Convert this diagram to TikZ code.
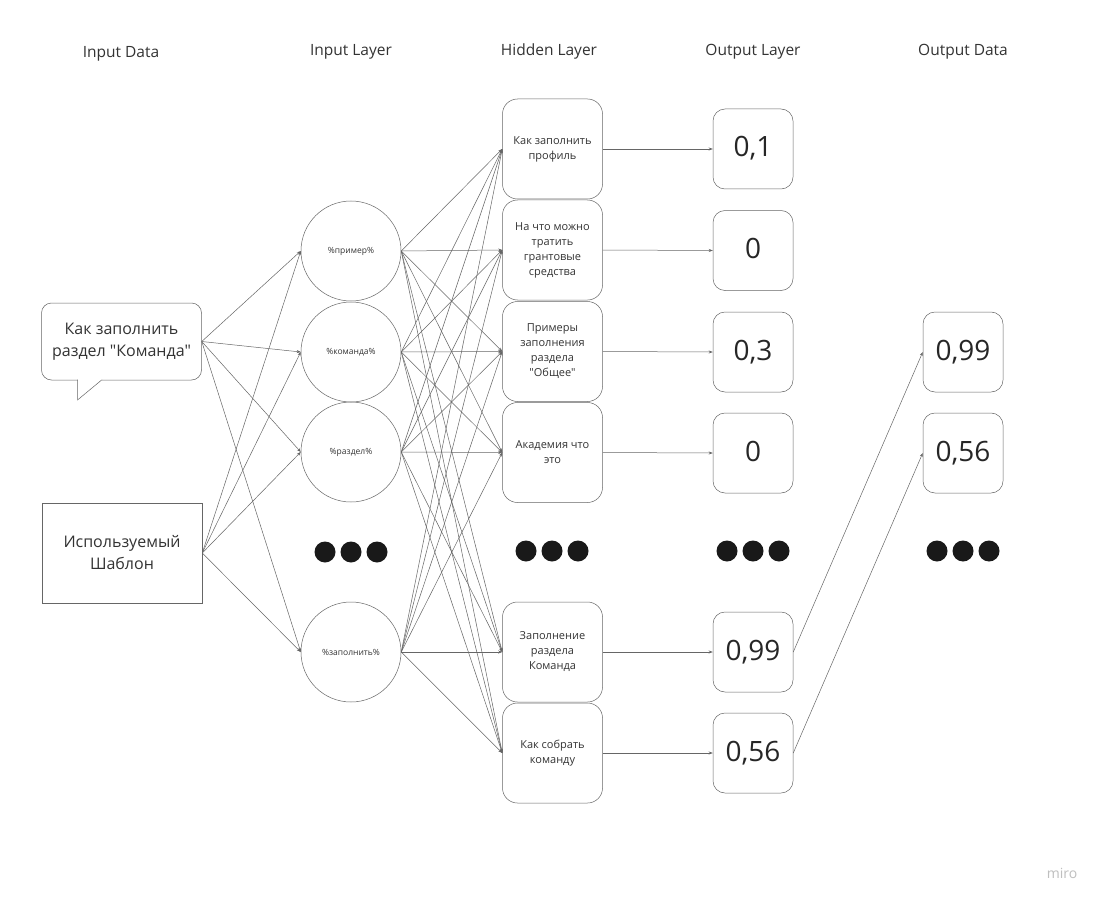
\documentclass[tikz,border=0pt]{standalone}
\usepackage{fontspec}
\setmainfont{Open Sans}[Ligatures=TeXOff]
\usetikzlibrary{arrows.meta}
\begin{document}
\begin{tikzpicture}[x=1pt,y=-1pt,>={Stealth[length=4pt,width=3pt]},
 line/.style={draw=black!60,line width=0.5pt},
 conn/.style={line,->},
 head/.style={anchor=base,text=black!80,font=\fontsize{15.5}{18}\selectfont},
 neuron/.style={circle,line,minimum size=100pt,inner sep=0pt,font=\fontsize{8.5}{10}\selectfont,text=black!80},
 hid/.style={rectangle,rounded corners=15pt,line,minimum width=100pt,minimum height=100pt,align=center,inner sep=0pt,font=\fontsize{11}{15}\selectfont,text=black!80},
 outbox/.style={rectangle,rounded corners=12pt,line,minimum size=80pt,inner sep=0pt,text height=20pt,text depth=4pt,font=\fontsize{28}{32}\selectfont,text=black!85},
 inbox/.style={rectangle,line,minimum width=160pt,inner sep=0pt,align=center,font=\fontsize{16}{22}\selectfont,text=black!80},
 blob/.style={circle,fill=black!90,minimum size=21pt,inner sep=0pt}]
\useasboundingbox[fill=white] (0,0) rectangle (1105,904);
% headers
\node[head] (hInData) at (121,58) {Input Data};
\node[head] (hInLayer) at (351,56) {Input Layer};
\node[head] (hHidden) at (549,56) {Hidden Layer};
\node[head] (hOutLayer) at (753,56) {Output Layer};
\node[head] (hOutData) at (963,56) {Output Data};
% input data
\node[inbox,rounded corners=10pt,minimum height=77pt] (inAsk) at (121.5,341.5) {Как заполнить\\раздел "Команда"};
\fill[white] (77.8,379.4) rectangle (101.8,380.6);
\draw[line] (77.5,379.7) -- (77.5,400) -- (102,379.7);
\node[inbox,minimum height=100pt] (inTpl) at (122,553) {Используемый\\Шаблон};
% input layer
\foreach \n/\y/\t in {1/251/\%пример\%,2/352/\%команда\%,3/452/\%раздел\%,4/652/\%заполнить\%}
 \node[neuron] (n\n) at (351,\y) {\t};
\foreach \x in {325,351,377} \node[blob] (dIn\x) at (\x,552) {};
% hidden layer
\node[hid] (h1) at (552.5,149) {Как заполнить\\профиль};
\node[hid] (h2) at (552.5,250) {На что можно\\тратить\\грантовые\\средства};
\node[hid] (h3) at (552.5,351.5) {Примеры\\заполнения\\раздела\\"Общее"};
\node[hid] (h4) at (552.5,452.5) {Академия что\\это};
\node[hid] (h5) at (552.5,652) {Заполнение\\раздела\\Команда};
\node[hid] (h6) at (552.5,753) {Как собрать\\команду};
\foreach \x in {526,552,578} \node[blob] (dHid\x) at (\x,551) {};
% output layer
\foreach \o/\y/\v in {1/149/{0,1},2/250.5/0,3/352/{0,3},4/453/0,5/652/{0,99},6/753/{0,56}}
 \node[outbox] (o\o) at (753,\y) {\v};
\foreach \x in {727,753,779} \node[blob] (dOut\x) at (\x,551) {};
% output data
\node[outbox] (d1) at (963,352) {0,99};
\node[outbox] (d2) at (963,453) {0,56};
\foreach \x in {937,963,989} \node[blob] (dData\x) at (\x,551) {};
% connectors
\foreach \s in {inAsk,inTpl} \foreach \n in {1,...,4} \draw[conn] (\s.east) -- (n\n.west);
\foreach \n in {1,...,4} \foreach \h in {1,...,6} \draw[conn] (n\n.east) -- (h\h.west);
\foreach \h in {1,...,6} \draw[conn] (h\h.east) -- (o\h.west);
\draw[conn] (o5.east) -- (d1.west);
\draw[conn] (o6.east) -- (d2.west);
\node[text=black!25,font=\fontsize{14}{16}\selectfont] (mark) at (1062,873) {miro};
\end{tikzpicture}
\end{document}
